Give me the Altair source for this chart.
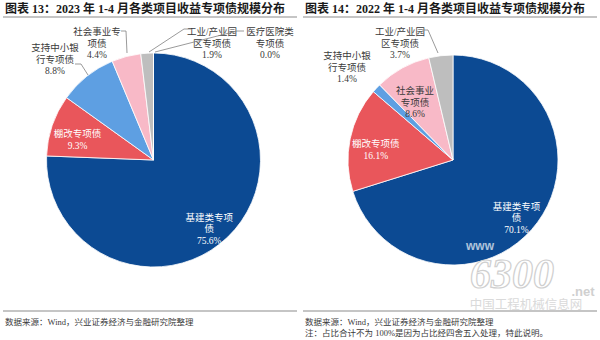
import altair as alt
import pandas as pd

# ---------------- data ----------------
categories = ["基建类专项债", "棚改专项债", "支持中小银行专项债",
              "社会事业专项债", "工业/产业园区专项债", "医疗医院类专项债"]
colors = ["#0C4A93", "#E9565B", "#5E9FE2", "#F8B9C7", "#BEBEBE", "#A9A9A9"]

share_2023 = [75.6, 9.3, 8.8, 4.4, 1.9, 0.0]
share_2022 = [70.1, 16.1, 1.4, 8.6, 3.7, None]

wrap_2023 = ["基建类专项\n债", "棚改专项债", "支持中小银\n行专项债",
             "社会事业专\n项债", "工业/产业园\n区专项债", "医疗医院类\n专项债"]
wrap_2022 = ["基建类专项\n债", "棚改专项债", "支持中小银\n行专项债",
             "社会事业\n专项债", "工业/产业园\n区专项债", "医疗医院类\n专项债"]

title_2023 = "图表 13：2023 年 1-4 月各类项目收益专项债规模分布"
title_2022 = "图表 14：2022 年 1-4 月各类项目收益专项债规模分布"
source_text = "数据来源：Wind，兴业证券经济与金融研究院整理"
note_text = "注：占比合计不为 100%是因为占比经四舍五入处理，特此说明。"

FONT = "'Liberation Serif', 'Noto Sans CJK SC', serif"
TXT = "#3a3a3a"
W, H = 300, 340


def one(d):
    return alt.Data(values=[d])


def panel(title, shares, wraps, inside, dark_inside, outside, leaders, cx, cy, R,
          notes, extra=None):
    rows = []
    for i, (c, v, w) in enumerate(zip(categories, shares, wraps)):
        if v is None:
            continue
        lab = f"{w}\n{v:.1f}%"
        rows.append({
            "idx": i, "cat": c, "v": v,
            "lab": lab if c in inside else "",
            "tc": TXT if c in dark_inside else "#ffffff",
        })
    df = pd.DataFrame(rows)
    base = alt.Chart(df)
    theta = alt.Theta("v:Q", stack=True)
    order = alt.Order("idx:Q", sort="ascending")

    pie = base.mark_arc(x=cx, y=cy, outerRadius=R, stroke="#ffffff",
                        strokeWidth=0.8).encode(
        theta=theta, order=order,
        color=alt.Color("cat:N", scale=alt.Scale(domain=categories, range=colors),
                        legend=None))

    inlab = base.mark_text(x=cx, y=cy, radius=R * 0.75, font=FONT, fontSize=9.5,
                           lineBreak="\n", lineHeight=11.5, align="center",
                           baseline="middle").encode(
        theta=theta, order=order, text="lab:N",
        color=alt.Color("tc:N", scale=None))

    # outside label annotations
    orows = []
    for c, px, py in outside:
        i = categories.index(c)
        orows.append({"px": px, "py": py, "t": f"{wraps[i]}\n{shares[i]:.1f}%"})
    outlab = alt.Chart(pd.DataFrame(orows)).mark_text(
        font=FONT, fontSize=9.5, lineBreak="\n", lineHeight=11.5, align="center",
        baseline="top", color=TXT).encode(
        x=alt.X("px:Q", scale=None), y=alt.Y("py:Q", scale=None), text="t:N")

    lead = alt.Chart(pd.DataFrame(leaders, columns=["x1", "y1", "x2", "y2"])).mark_rule(
        color="#808080", strokeWidth=0.8).encode(
        x=alt.X("x1:Q", scale=None), y=alt.Y("y1:Q", scale=None),
        x2="x2:Q", y2="y2:Q")

    ttl = alt.Chart(one({"t": title})).mark_text(
        font=FONT, fontSize=12, fontWeight="bold", align="left", baseline="middle",
        color="#1a1a1a").encode(x=alt.value(5), y=alt.value(9), text="t:N")

    rules = alt.Chart(pd.DataFrame([[3, 17, 297, 17], [3, 311, 297, 311]],
                                   columns=["x1", "y1", "x2", "y2"])).mark_rule(
        color="#8c8c8c", strokeWidth=1.2).encode(
        x=alt.X("x1:Q", scale=None), y=alt.Y("y1:Q", scale=None),
        x2="x2:Q", y2="y2:Q")

    nrows = [{"t": t, "py": 322 + 11 * k} for k, t in enumerate(notes)]
    foot = alt.Chart(pd.DataFrame(nrows)).mark_text(
        font=FONT, fontSize=8.5, align="left", baseline="middle", color=TXT).encode(
        x=alt.value(5), y=alt.Y("py:Q", scale=None), text="t:N")

    layers = [pie, inlab, outlab, lead, ttl, rules, foot]
    if extra:
        layers += extra
    return alt.layer(*layers).properties(width=W, height=H)


p1 = panel(
    title_2023, share_2023, wrap_2023,
    inside={"基建类专项债", "棚改专项债"}, dark_inside=set(),
    outside=[("支持中小银行专项债", 55, 43), ("社会事业专项债", 97, 27),
             ("工业/产业园区专项债", 212, 27), ("医疗医院类专项债", 270, 27)],
    leaders=[(75, 64, 81, 64), (81, 64, 88, 75),
             (121, 31, 126, 31), (126, 31, 127, 53),
             (191, 29, 184, 29), (184, 29, 149, 52),
             (244, 31, 237, 31), (237, 31, 155, 52)],
    cx=153.5, cy=160, R=107, notes=[source_text])

wm = [
    alt.Chart(one({"t": "www"})).mark_text(
        font="'Liberation Sans', sans-serif", fontSize=12, fontWeight="bold",
        color="#d9e2ee", opacity=0.8, align="center", baseline="middle").encode(
        x=alt.value(180), y=alt.value(246), text="t:N"),
    alt.Chart(one({"t": "6300"})).mark_text(
        font="'Liberation Serif', serif", fontSize=42, fontStyle="italic",
        fontWeight="bold", color="#ffffff", stroke="#cfcfcf", strokeWidth=1.2,
        align="center", baseline="middle").encode(
        x=alt.value(212), y=alt.value(275), text="t:N"),
    alt.Chart(one({"t": ".net"})).mark_text(
        font="'Liberation Sans', sans-serif", fontSize=13, fontWeight="bold",
        color="#d0d0d0", align="center", baseline="middle").encode(
        x=alt.value(283), y=alt.value(292), text="t:N"),
    alt.Chart(one({"t": "中国工程机械信息网"})).mark_text(
        font="'Noto Sans CJK SC', sans-serif", fontSize=12.5,
        color="#d6d6d6", opacity=0.9, align="center", baseline="middle").encode(
        x=alt.value(226), y=alt.value(305), text="t:N"),
]

p2 = panel(
    title_2022, share_2022, wrap_2022,
    inside={"基建类专项债", "棚改专项债", "社会事业专项债"},
    dark_inside={"社会事业专项债"},
    outside=[("支持中小银行专项债", 47, 51), ("工业/产业园区专项债", 100, 27)],
    leaders=[(122, 30, 128, 30), (128, 30, 138, 53)],
    cx=153, cy=160, R=105, notes=[source_text, note_text], extra=wm)

chart = alt.hconcat(p1, p2, spacing=0).properties(
    padding=0, background="#ffffff").configure_view(strokeWidth=0)

chart.save("out.html", embed_options={"renderer": "svg", "actions": False})
